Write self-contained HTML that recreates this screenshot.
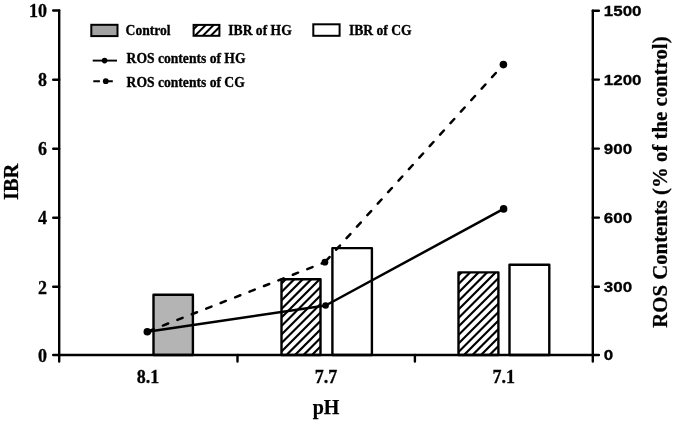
<!DOCTYPE html>
<html><head><meta charset="utf-8">
<style>
html,body{margin:0;padding:0;background:#fff;}
body{width:675px;height:422px;overflow:hidden;}
svg{display:block;will-change:transform;}
.s{font-family:"Liberation Serif",serif;font-weight:bold;fill:#000;}
.a{font-family:"Liberation Sans",sans-serif;font-weight:bold;fill:#000;}
</style></head>
<body>
<svg width="675" height="422" viewBox="0 0 675 422">
<defs>
<clipPath id="c1"><rect x="281.3" y="279" width="39.40" height="76.00"/></clipPath>
<clipPath id="c2"><rect x="458.3" y="272.3" width="40.2" height="82.70"/></clipPath>
<clipPath id="c3"><rect x="193.6" y="24.9" width="25.80" height="10.90"/></clipPath>
</defs>

<!-- bars -->
<rect x="153.5" y="294.7" width="39.4" height="60.3" fill="#b4b4b4" stroke="#000" stroke-width="2.4" stroke-linejoin="round"/>
<rect x="281.3" y="279" width="39.4" height="76" fill="#fff"/>
<path clip-path="url(#c1)" d="M276.30 271.70L325.70 222.30M276.30 280.20L325.70 230.80M276.30 288.70L325.70 239.30M276.30 297.20L325.70 247.80M276.30 305.70L325.70 256.30M276.30 314.20L325.70 264.80M276.30 322.70L325.70 273.30M276.30 331.20L325.70 281.80M276.30 339.70L325.70 290.30M276.30 348.20L325.70 298.80M276.30 356.70L325.70 307.30M276.30 365.20L325.70 315.80M276.30 373.70L325.70 324.30M276.30 382.20L325.70 332.80M276.30 390.70L325.70 341.30M276.30 399.20L325.70 349.80M276.30 407.70L325.70 358.30" stroke="#000" stroke-width="2.2" fill="none"/>
<rect x="281.5" y="279.2" width="39" height="75.8" fill="none" stroke="#000" stroke-width="2.4" stroke-linejoin="round"/>
<rect x="332.4" y="248.1" width="39.5" height="106.9" fill="#fff" stroke="#000" stroke-width="2.4" stroke-linejoin="round"/>
<rect x="458.3" y="272.3" width="40.2" height="82.7" fill="#fff"/>
<path clip-path="url(#c2)" d="M453.30 263.70L502.90 214.10M453.30 272.20L502.90 222.60M453.30 280.70L502.90 231.10M453.30 289.20L502.90 239.60M453.30 297.70L502.90 248.10M453.30 306.20L502.90 256.60M453.30 314.70L502.90 265.10M453.30 323.20L502.90 273.60M453.30 331.70L502.90 282.10M453.30 340.20L502.90 290.60M453.30 348.70L502.90 299.10M453.30 357.20L502.90 307.60M453.30 365.70L502.90 316.10M453.30 374.20L502.90 324.60M453.30 382.70L502.90 333.10M453.30 391.20L502.90 341.60M453.30 399.70L502.90 350.10" stroke="#000" stroke-width="2.2" fill="none"/>
<rect x="458.5" y="272.4" width="39.9" height="82.6" fill="none" stroke="#000" stroke-width="2.4" stroke-linejoin="round"/>
<rect x="509.5" y="264.8" width="39.8" height="90.2" fill="#fff" stroke="#000" stroke-width="2.4" stroke-linejoin="round"/>

<!-- axes -->
<g stroke="#000" stroke-width="2.4" fill="none" stroke-linecap="round" stroke-linejoin="round">
<path d="M59.2 10.5 V361.5 M592.8 10.7 V361.5 M59.2 355 H592.8"/>
<path d="M237.5 355 V361.5 M414.9 355 V361.5"/>
<path d="M53.2 10.5 H59.2 M53.2 79.7 H59.2 M53.2 148.8 H59.2 M53.2 217.7 H59.2 M53.2 286.8 H59.2 M53.2 355 H59.2"/>
<path d="M592.8 10.7 H598.9 M592.8 79.6 H598.9 M592.8 148.6 H598.9 M592.8 217.6 H598.9 M592.8 286.8 H598.9 M592.8 355 H598.9"/>
</g>

<!-- lines -->
<polyline points="147.3,331.7 325.6,305.5 503.6,208.9" fill="none" stroke="#000" stroke-width="2.5" stroke-linejoin="round"/>
<path d="M148.5 331.2 L324.9 262.2" fill="none" stroke="#000" stroke-width="2.5" stroke-dasharray="5.6 9.9" stroke-linecap="round"/>
<path d="M325.8 261.2 L503.4 64.6" fill="none" stroke="#000" stroke-width="2.5" stroke-dasharray="5.6 9.9" stroke-linecap="round"/>
<g fill="#000">
<circle cx="147.3" cy="331.7" r="3.8"/>
<circle cx="325.6" cy="305.5" r="3.3"/>
<circle cx="503.6" cy="208.9" r="3.8"/>
<circle cx="324.9" cy="262.2" r="3.4"/>
<circle cx="503.4" cy="64.6" r="3.8"/>
</g>

<!-- left tick labels -->
<g class="s" font-size="18" text-anchor="end" stroke="#000" stroke-width="0.3">
<text x="47" y="16.6">10</text>
<text x="47" y="86.2">8</text>
<text x="47" y="155.2">6</text>
<text x="47" y="224.2">4</text>
<text x="47" y="294">2</text>
<text x="47" y="361.8">0</text>
</g>
<!-- right tick labels -->
<g class="a" font-size="15" stroke="#000" stroke-width="0.3" transform="translate(603.8,0) scale(1.13,1)">
<text x="0" y="16.1">1500</text>
<text x="0" y="85">1200</text>
<text x="0" y="154">900</text>
<text x="0" y="223">600</text>
<text x="0" y="292.1">300</text>
<text x="0" y="360.4">0</text>
</g>
<!-- x tick labels -->
<g class="s" font-size="18" text-anchor="middle" stroke="#000" stroke-width="0.3">
<text x="148.1" y="383">8.1</text>
<text x="325.9" y="383">7.7</text>
<text x="503.7" y="383">7.1</text>
</g>
<text class="s" font-size="20" text-anchor="middle" x="326" y="414" stroke="#000" stroke-width="0.25">pH</text>
<text class="s" font-size="20.5" text-anchor="middle" transform="translate(17.6,181.8) rotate(-90)" stroke="#000" stroke-width="0.25">IBR</text>
<text class="s" font-size="20.8" text-anchor="middle" transform="translate(667.4,182.1) rotate(-90)" stroke="#000" stroke-width="0.25">ROS Contents (% of the control)</text>

<!-- legend -->
<rect x="91.3" y="24.8" width="26.2" height="11.3" fill="#a2a2a2" stroke="#000" stroke-width="2"/>
<rect x="193.6" y="24.9" width="25.8" height="10.9" fill="#fff"/>
<path clip-path="url(#c3)" d="M188.60 18.40L224.40 -17.40M188.60 26.30L224.40 -9.50M188.60 34.20L224.40 -1.60M188.60 42.10L224.40 6.30M188.60 50.00L224.40 14.20M188.60 57.90L224.40 22.10M188.60 65.80L224.40 30.00M188.60 73.70L224.40 37.90" stroke="#000" stroke-width="2.0" fill="none"/>
<rect x="193.6" y="24.9" width="25.8" height="10.9" fill="none" stroke="#000" stroke-width="2"/>
<rect x="313.3" y="24.3" width="26.3" height="11.5" fill="#fff" stroke="#000" stroke-width="2"/>
<g class="s" font-size="13.6" stroke="#000" stroke-width="0.3">
<text transform="translate(125.6,34.6) scale(1,1.13)">Control</text>
<text transform="translate(228.3,34.6) scale(1,1.13)">IBR of HG</text>
<text transform="translate(349,34.6) scale(1,1.13)">IBR of CG</text>
<text transform="translate(126.6,63.2) scale(1,1.13)">ROS contents of HG</text>
<text transform="translate(126.6,86.8) scale(1,1.13)">ROS contents of CG</text>
</g>
<path d="M92.7 60.6 H117" stroke="#000" stroke-width="1.9"/>
<circle cx="104.6" cy="60.6" r="2.8" fill="#000"/>
<path d="M93.3 81.3 H99.9 M104 81.3 H112.8" stroke="#000" stroke-width="1.9"/>
<circle cx="105.8" cy="81.2" r="2.9" fill="#000"/>
</svg>
</body></html>
